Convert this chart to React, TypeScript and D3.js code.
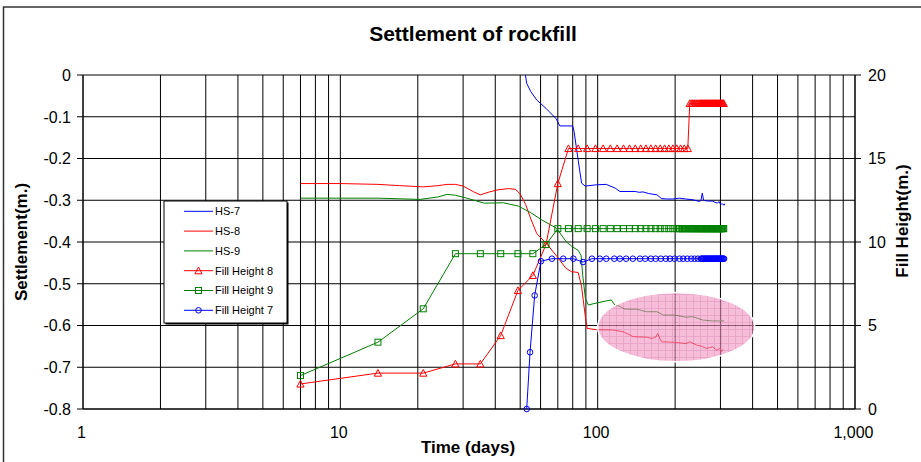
import React from 'react';
import * as d3 from 'd3';

const W = 921;
const H = 462;
const FONT = "'Liberation Sans', Arial, Helvetica, sans-serif";

// Axis definitions
const xTickValues = [1, 10, 100, 1000];
const xTickLabels = ['1', '10', '100', '1,000'];
const settlementTicks = [0, -0.1, -0.2, -0.3, -0.4, -0.5, -0.6, -0.7, -0.8];
const settlementTickLabels = ['0', '-0.1', '-0.2', '-0.3', '-0.4', '-0.5', '-0.6', '-0.7', '-0.8'];
const fillTicks = [0, 5, 10, 15, 20];
const fillTickLabels = ['0', '5', '10', '15', '20'];

// Settlement gauges: [day, settlement (m)]
const hs7: [number, number][] = [
  [52.4, 0], [53, -0.02], [55, -0.04], [58, -0.06], [63, -0.08], [69, -0.105], [71.3, -0.122],
  [80, -0.122], [81, -0.136], [84, -0.204], [86.6, -0.259], [89.4, -0.266], [99, -0.263],
  [108, -0.262], [117, -0.271], [122, -0.279], [140, -0.279], [145, -0.281], [150, -0.28],
  [158, -0.284], [170, -0.287], [177, -0.296], [185, -0.297], [196, -0.297], [208, -0.295],
  [220, -0.297], [235, -0.299], [249, -0.303], [252, -0.3], [255, -0.283], [258, -0.3],
  [261, -0.301], [270, -0.302], [280, -0.302], [286, -0.305], [292, -0.307], [296, -0.303],
  [300, -0.309], [306, -0.309], [310, -0.312], [312, -0.308],
];

const hs8: [number, number][] = [
  [7, -0.26], [10, -0.26], [14, -0.262], [17, -0.265], [21, -0.268], [24, -0.265], [26, -0.262],
  [28, -0.262], [30, -0.266], [33, -0.28], [35, -0.287], [38, -0.28], [41, -0.275], [45, -0.272],
  [48, -0.274], [50, -0.285], [52.5, -0.31], [55, -0.345], [58, -0.38], [63.5, -0.405],
  [70, -0.437], [75, -0.462], [79, -0.471], [84, -0.473], [86.5, -0.505], [89.4, -0.575],
  [91, -0.607], [99, -0.61], [115, -0.611], [125.7, -0.615], [137.8, -0.627], [155, -0.628],
  [162.7, -0.631], [168, -0.628], [171, -0.619], [177, -0.639], [196, -0.64], [220.6, -0.643],
  [228, -0.639], [243, -0.647], [255, -0.65], [264.5, -0.655], [280, -0.651], [290, -0.659],
  [298, -0.655], [303, -0.662], [307, -0.657],
];

const hs9: [number, number][] = [
  [7, -0.295], [14, -0.295], [20.4, -0.298], [24, -0.292], [26, -0.286], [28, -0.288],
  [31, -0.295], [36.3, -0.307], [43, -0.306], [49.2, -0.314], [55, -0.33], [60.6, -0.347],
  [69.2, -0.367], [75.6, -0.4], [80, -0.412], [84, -0.42], [86.2, -0.432], [87.5, -0.48],
  [89.6, -0.535], [92, -0.551], [96, -0.548], [108, -0.541], [113, -0.539], [116.6, -0.551],
  [120.5, -0.553], [128, -0.561], [142, -0.561], [155, -0.567], [170, -0.567], [180, -0.575],
  [199, -0.575], [220.6, -0.58], [235, -0.579], [256, -0.587], [280, -0.589], [298, -0.589],
  [310, -0.589],
];

// Fill heights: [day, height (m)]
const fillHeight8: [number, number][] = [
  [7, 1.5], [14, 2.15], [21, 2.15], [28, 2.7], [35, 2.7], [42, 4.4], [49, 7.1], [56, 8.0],
  [63, 9.85], [70, 13.5], [77, 15.6], [84, 15.6], [91, 15.6], [98, 15.6], [105, 15.6],
  [112, 15.6], [119, 15.6], [126, 15.6], [133, 15.6], [140, 15.6], [147, 15.6], [154, 15.6],
  [161, 15.6], [168, 15.6], [175, 15.6], [182, 15.6], [189, 15.6], [196, 15.6], [203, 15.6],
  [210, 15.6], [217, 15.6], [224, 15.6], [228, 18.3], [231, 18.3], [234, 18.3], [237, 18.3],
  [240, 18.3], [243, 18.3], [246, 18.3], [249, 18.3], [251, 18.3], [253, 18.3], [255, 18.3],
  [257, 18.3], [259, 18.3], [261, 18.3], [263, 18.3], [265, 18.3], [267, 18.3], [269, 18.3],
  [271, 18.3], [273, 18.3], [275, 18.3], [277, 18.3], [279, 18.3], [281, 18.3], [283, 18.3],
  [285, 18.3], [287, 18.3], [289, 18.3], [291, 18.3], [293, 18.3], [295, 18.3], [297, 18.3],
  [299, 18.3], [301, 18.3], [303, 18.3], [305, 18.3], [307, 18.3], [309, 18.3],
];

const fillHeight9: [number, number][] = [
  [7, 2.0], [14, 4.0], [21, 6.0], [28, 9.3], [35, 9.3], [42, 9.3], [49, 9.3], [56, 9.3],
  [63, 9.85], [70, 10.8], [77, 10.8], [84, 10.8], [91, 10.8], [98, 10.8], [105, 10.8],
  [112, 10.8], [119, 10.8], [126, 10.8], [133, 10.8], [140, 10.8], [147, 10.8], [154, 10.8],
  [161, 10.8], [168, 10.8], [175, 10.8], [182, 10.8], [189, 10.8], [196, 10.8], [203, 10.8],
  [206, 10.8], [208, 10.8], [211, 10.8], [213, 10.8], [215, 10.8], [218, 10.8], [220, 10.8],
  [222, 10.8], [225, 10.8], [227, 10.8], [229, 10.8], [232, 10.8], [234, 10.8], [236, 10.8],
  [239, 10.8], [241, 10.8], [243, 10.8], [245, 10.8], [247, 10.8], [249, 10.8], [251, 10.8],
  [253, 10.8], [255, 10.8], [257, 10.8], [259, 10.8], [261, 10.8], [263, 10.8], [265, 10.8],
  [267, 10.8], [269, 10.8], [271, 10.8], [273, 10.8], [275, 10.8], [277, 10.8], [279, 10.8],
  [281, 10.8], [283, 10.8], [285, 10.8], [287, 10.8], [289, 10.8], [291, 10.8], [293, 10.8],
  [295, 10.8], [297, 10.8], [299, 10.8], [301, 10.8], [303, 10.8], [305, 10.8], [307, 10.8],
  [309, 10.8],
];

const fillHeight7: [number, number][] = [
  [53, 0], [54.6, 3.4], [56.9, 6.8], [60.2, 8.85], [66.4, 9.0], [73.5, 9.0], [80.5, 9.0],
  [87.7, 8.8], [95, 9.0], [102, 9.0], [108, 9.0], [116, 9.0], [122, 9.0], [129, 9.0],
  [137, 9.0], [146, 9.0], [153, 9.0], [161, 9.0], [168, 9.0], [176, 9.0], [184, 9.0],
  [191, 9.0], [199, 9.0], [208, 9.0], [215, 9.0], [223, 9.0], [231, 9.0], [238, 9.0],
  [245, 9.0], [252, 9.0], [254, 9.0], [256, 9.0], [258, 9.0], [260, 9.0], [262, 9.0],
  [264, 9.0], [266, 9.0], [268, 9.0], [270, 9.0], [272, 9.0], [274, 9.0], [276, 9.0],
  [278, 9.0], [280, 9.0], [282, 9.0], [284, 9.0], [286, 9.0], [288, 9.0], [290, 9.0],
  [292, 9.0], [294, 9.0], [296, 9.0], [298, 9.0], [300, 9.0], [302, 9.0], [304, 9.0],
  [306, 9.0], [308, 9.0], [310, 9.0],
];

// Highlighted late-settlement zone: day range and settlement range
const highlightDays = [100, 408];
const highlightSettlement = [-0.687, -0.521];

type MarkerKind = 'none' | 'triangle' | 'square' | 'circle';

const legendItems: { label: string; color: string; marker: MarkerKind }[] = [
  { label: 'HS-7', color: '#0000ff', marker: 'none' },
  { label: 'HS-8', color: '#ff0000', marker: 'none' },
  { label: 'HS-9', color: '#008000', marker: 'none' },
  { label: 'Fill Height 8', color: '#ff0000', marker: 'triangle' },
  { label: 'Fill Height 9', color: '#008000', marker: 'square' },
  { label: 'Fill Height 7', color: '#0000ff', marker: 'circle' },
];

function Marker({ kind, cx, cy, color }: { kind: MarkerKind; cx: number; cy: number; color: string }) {
  if (kind === 'triangle') {
    const p = `M${cx},${cy - 3.6}L${cx + 3.6},${cy + 3.1}L${cx - 3.6},${cy + 3.1}Z`;
    return <path d={p} fill="none" stroke={color} strokeWidth={1} />;
  }
  if (kind === 'square') {
    return <rect x={cx - 3} y={cy - 3} width={6} height={6} fill="none" stroke={color} strokeWidth={1} />;
  }
  if (kind === 'circle') {
    return <circle cx={cx} cy={cy} r={2.8} fill="none" stroke={color} strokeWidth={1} />;
  }
  return null;
}

export default function App() {
  const plotL = 83;
  const plotR = 855;
  const plotT = 75;
  const plotB = 409;

  const x = d3.scaleLog().domain([1, 1000]).range([plotL, plotR]);
  const yS = d3.scaleLinear().domain([-0.8, 0]).range([plotB, plotT]);
  const yF = d3.scaleLinear().domain([0, 20]).range([plotB, plotT]);

  const settleLine = d3.line<[number, number]>().x((d) => x(d[0])).y((d) => yS(d[1]));
  const fillLine = d3.line<[number, number]>().x((d) => x(d[0])).y((d) => yF(d[1]));

  const gridDays = x.ticks();

  const ex0 = x(highlightDays[0]);
  const ex1 = x(highlightDays[1]);
  const ey0 = yS(highlightSettlement[1]);
  const ey1 = yS(highlightSettlement[0]);

  const legendX = 164;
  const legendY = 201;
  const legendW = 123;
  const legendH = 122;
  const rowH = 19.8;

  const fillSeries: { data: [number, number][]; color: string; marker: MarkerKind }[] = [
    { data: fillHeight8, color: '#ff0000', marker: 'triangle' },
    { data: fillHeight9, color: '#008000', marker: 'square' },
    { data: fillHeight7, color: '#0000ff', marker: 'circle' },
  ];

  return (
    <svg
      width={W}
      height={H}
      style={{ position: 'absolute', left: 0, top: 0, background: '#fff' }}
      fontFamily={FONT}
    >
      <defs>
        <pattern id="pinkGrid" width={7} height={7} patternUnits="userSpaceOnUse">
          <rect width={7} height={7} fill="#f293c2" />
          <path d="M0,0.5H7M0.5,0V7" stroke="#dc6aa3" strokeWidth={1} />
          <rect x={3.5} y={3.5} width={1} height={1} fill="#e27cb0" />
        </pattern>
        <clipPath id="plotClip">
          <rect x={plotL} y={plotT - 5} width={plotR - plotL} height={plotB - plotT + 10} />
        </clipPath>
      </defs>

      <rect x={0} y={0} width={W} height={H} fill="#fff" />
      {/* chart frame */}
      <rect x={3.5} y={7} width={W + 20} height={H + 20} fill="none" stroke="#333" strokeWidth={1.5} />

      {/* title */}
      <text x={473} y={41} textAnchor="middle" fontSize={21} fontWeight="bold" fill="#000">
        Settlement of rockfill
      </text>

      {/* vertical log grid */}
      {gridDays.map((d, i) => (
        <line key={`vg${i}`} x1={x(d)} x2={x(d)} y1={plotT} y2={plotB} stroke="#000" strokeWidth={1} />
      ))}
      {/* horizontal grid */}
      {settlementTicks.map((v, i) => (
        <line key={`hg${i}`} x1={plotL} x2={plotR} y1={yS(v)} y2={yS(v)} stroke="#000" strokeWidth={1} />
      ))}

      {/* axes */}
      <line x1={plotL} x2={plotL} y1={plotT} y2={plotB} stroke="#000" strokeWidth={1} />
      <line x1={plotR} x2={plotR} y1={plotT} y2={plotB} stroke="#000" strokeWidth={1} />
      <line x1={plotL} x2={plotR} y1={plotB} y2={plotB} stroke="#000" strokeWidth={1} />

      {/* left ticks and labels */}
      {settlementTicks.map((v, i) => (
        <g key={`lt${i}`}>
          <line x1={plotL - 6} x2={plotL} y1={yS(v)} y2={yS(v)} stroke="#000" strokeWidth={1} />
          <text x={71} y={yS(v)} dy="0.36em" textAnchor="end" fontSize={16} fill="#000">
            {settlementTickLabels[i]}
          </text>
        </g>
      ))}

      {/* right ticks and labels */}
      {fillTicks.map((v, i) => (
        <g key={`rt${i}`}>
          <line x1={plotR} x2={plotR + 6} y1={yF(v)} y2={yF(v)} stroke="#000" strokeWidth={1} />
          <text x={868} y={yF(v)} dy="0.36em" textAnchor="start" fontSize={16} fill="#000">
            {fillTickLabels[i]}
          </text>
        </g>
      ))}

      {/* bottom labels */}
      {xTickValues.map((v, i) => (
        <text key={`bt${i}`} x={x(v) - 1.5} y={438} textAnchor="middle" fontSize={16} fill="#000">
          {xTickLabels[i]}
        </text>
      ))}

      {/* axis titles */}
      <text x={468} y={453} textAnchor="middle" fontSize={17} fontWeight="bold" fill="#000">
        Time (days)
      </text>
      <text
        transform="translate(27,242) rotate(-90)"
        textAnchor="middle"
        fontSize={17}
        fontWeight="bold"
        fill="#000"
      >
        Settlement(m.)
      </text>
      <text
        transform="translate(908,221) rotate(-90)"
        textAnchor="middle"
        fontSize={17}
        fontWeight="bold"
        fill="#000"
      >
        Fill Height(m.)
      </text>

      <g clipPath="url(#plotClip)">
        {/* settlement lines */}
        <path d={settleLine(hs7) ?? ''} fill="none" stroke="#0000ff" strokeWidth={1} />
        <path d={settleLine(hs8) ?? ''} fill="none" stroke="#ff0000" strokeWidth={1} />
        <path d={settleLine(hs9) ?? ''} fill="none" stroke="#008000" strokeWidth={1} />

        {/* fill height lines with markers */}
        {fillSeries.map((s, si) => (
          <g key={`fs${si}`}>
            <path d={fillLine(s.data) ?? ''} fill="none" stroke={s.color} strokeWidth={1} />
            {s.data.map((d, i) => (
              <Marker key={i} kind={s.marker} cx={x(d[0])} cy={yF(d[1])} color={s.color} />
            ))}
          </g>
        ))}
      </g>

      {/* highlighted zone */}
      <ellipse
        cx={(ex0 + ex1) / 2}
        cy={(ey0 + ey1) / 2}
        rx={(ex1 - ex0) / 2}
        ry={(ey1 - ey0) / 2}
        fill="url(#pinkGrid)"
        opacity={0.6}
      />
      <ellipse
        cx={(ex0 + ex1) / 2}
        cy={(ey0 + ey1) / 2}
        rx={(ex1 - ex0) / 2}
        ry={(ey1 - ey0) / 2}
        fill="none"
        stroke="#fff"
        strokeWidth={1.5}
      />

      {/* legend */}
      <rect x={legendX + 1.5} y={legendY + 1.5} width={legendW} height={legendH} fill="#000" />
      <rect x={legendX} y={legendY} width={legendW} height={legendH} fill="#fff" stroke="#000" strokeWidth={1} />
      {legendItems.map((it, i) => {
        const cy = legendY + 10.3 + i * rowH;
        return (
          <g key={`lg${i}`}>
            <line x1={184} x2={213} y1={cy} y2={cy} stroke={it.color} strokeWidth={1} />
            <Marker kind={it.marker} cx={198.5} cy={cy} color={it.color} />
            <text x={215} y={cy} dy="0.36em" fontSize={11} fill="#000">
              {it.label}
            </text>
          </g>
        );
      })}
    </svg>
  );
}
